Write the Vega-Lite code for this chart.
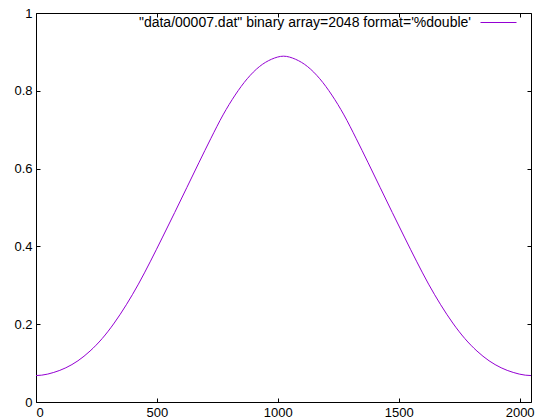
{
  "$schema": "https://vega.github.io/schema/vega-lite/v6.json",
  "width": 495,
  "height": 389,
  "autosize": {"type": "none"},
  "padding": {"left": 36, "top": 13, "right": 8, "bottom": 18},
  "background": "white",
  "config": {
    "view": {"stroke": "black", "strokeWidth": 1},
    "axis": {
      "domain": false,
      "grid": false,
      "tickColor": "black",
      "tickSize": -4,
      "labelFont": "Liberation Sans",
      "labelFontSize": 13,
      "labelColor": "black",
      "title": null
    },
    "legend": {"labelFont": "Liberation Sans", "labelFontSize": 14, "labelColor": "black", "labelLimit": 0}
  },
  "data": {
    "values": [
      {"i": 0, "v": 0.068, "s": "\"data/00007.dat\" binary array=2048 format='%double'"},
      {"i": 23.5, "v": 0.069, "s": "\"data/00007.dat\" binary array=2048 format='%double'"},
      {"i": 73.5, "v": 0.076, "s": "\"data/00007.dat\" binary array=2048 format='%double'"},
      {"i": 123.5, "v": 0.088, "s": "\"data/00007.dat\" binary array=2048 format='%double'"},
      {"i": 173.5, "v": 0.106, "s": "\"data/00007.dat\" binary array=2048 format='%double'"},
      {"i": 223.5, "v": 0.131, "s": "\"data/00007.dat\" binary array=2048 format='%double'"},
      {"i": 273.5, "v": 0.163, "s": "\"data/00007.dat\" binary array=2048 format='%double'"},
      {"i": 323.5, "v": 0.203, "s": "\"data/00007.dat\" binary array=2048 format='%double'"},
      {"i": 373.5, "v": 0.25, "s": "\"data/00007.dat\" binary array=2048 format='%double'"},
      {"i": 423.5, "v": 0.303, "s": "\"data/00007.dat\" binary array=2048 format='%double'"},
      {"i": 473.5, "v": 0.362, "s": "\"data/00007.dat\" binary array=2048 format='%double'"},
      {"i": 523.5, "v": 0.424, "s": "\"data/00007.dat\" binary array=2048 format='%double'"},
      {"i": 573.5, "v": 0.487, "s": "\"data/00007.dat\" binary array=2048 format='%double'"},
      {"i": 623.5, "v": 0.551, "s": "\"data/00007.dat\" binary array=2048 format='%double'"},
      {"i": 673.5, "v": 0.615, "s": "\"data/00007.dat\" binary array=2048 format='%double'"},
      {"i": 723.5, "v": 0.678, "s": "\"data/00007.dat\" binary array=2048 format='%double'"},
      {"i": 773.5, "v": 0.738, "s": "\"data/00007.dat\" binary array=2048 format='%double'"},
      {"i": 823.5, "v": 0.789, "s": "\"data/00007.dat\" binary array=2048 format='%double'"},
      {"i": 873.5, "v": 0.831, "s": "\"data/00007.dat\" binary array=2048 format='%double'"},
      {"i": 923.5, "v": 0.862, "s": "\"data/00007.dat\" binary array=2048 format='%double'"},
      {"i": 973.5, "v": 0.881, "s": "\"data/00007.dat\" binary array=2048 format='%double'"},
      {"i": 1023.5, "v": 0.889, "s": "\"data/00007.dat\" binary array=2048 format='%double'"},
      {"i": 1073.5, "v": 0.881, "s": "\"data/00007.dat\" binary array=2048 format='%double'"},
      {"i": 1123.5, "v": 0.862, "s": "\"data/00007.dat\" binary array=2048 format='%double'"},
      {"i": 1173.5, "v": 0.831, "s": "\"data/00007.dat\" binary array=2048 format='%double'"},
      {"i": 1223.5, "v": 0.789, "s": "\"data/00007.dat\" binary array=2048 format='%double'"},
      {"i": 1273.5, "v": 0.738, "s": "\"data/00007.dat\" binary array=2048 format='%double'"},
      {"i": 1323.5, "v": 0.678, "s": "\"data/00007.dat\" binary array=2048 format='%double'"},
      {"i": 1373.5, "v": 0.615, "s": "\"data/00007.dat\" binary array=2048 format='%double'"},
      {"i": 1423.5, "v": 0.551, "s": "\"data/00007.dat\" binary array=2048 format='%double'"},
      {"i": 1473.5, "v": 0.487, "s": "\"data/00007.dat\" binary array=2048 format='%double'"},
      {"i": 1523.5, "v": 0.424, "s": "\"data/00007.dat\" binary array=2048 format='%double'"},
      {"i": 1573.5, "v": 0.362, "s": "\"data/00007.dat\" binary array=2048 format='%double'"},
      {"i": 1623.5, "v": 0.303, "s": "\"data/00007.dat\" binary array=2048 format='%double'"},
      {"i": 1673.5, "v": 0.25, "s": "\"data/00007.dat\" binary array=2048 format='%double'"},
      {"i": 1723.5, "v": 0.203, "s": "\"data/00007.dat\" binary array=2048 format='%double'"},
      {"i": 1773.5, "v": 0.163, "s": "\"data/00007.dat\" binary array=2048 format='%double'"},
      {"i": 1823.5, "v": 0.131, "s": "\"data/00007.dat\" binary array=2048 format='%double'"},
      {"i": 1873.5, "v": 0.106, "s": "\"data/00007.dat\" binary array=2048 format='%double'"},
      {"i": 1923.5, "v": 0.088, "s": "\"data/00007.dat\" binary array=2048 format='%double'"},
      {"i": 1973.5, "v": 0.076, "s": "\"data/00007.dat\" binary array=2048 format='%double'"},
      {"i": 2023.5, "v": 0.069, "s": "\"data/00007.dat\" binary array=2048 format='%double'"},
      {"i": 2047, "v": 0.068, "s": "\"data/00007.dat\" binary array=2048 format='%double'"}
    ]
  },
  "layer": [
    {
      "mark": {"type": "line", "strokeWidth": 1, "interpolate": "monotone"},
      "encoding": {
        "x": {"field": "i", "type": "quantitative", "scale": {"domain": [0, 2047], "nice": false, "zero": false},
              "axis": {"orient": "bottom", "values": [0, 500, 1000, 1500, 2000], "format": "d", "labelPadding": 8}},
        "y": {"field": "v", "type": "quantitative", "scale": {"domain": [0, 1], "nice": false},
              "axis": {"orient": "left", "values": [0, 0.2, 0.4, 0.6, 0.8, 1], "format": "~g", "labelPadding": 8}},
        "color": {"field": "s", "type": "nominal", "scale": {"range": ["#9400D3"]},
                  "legend": {"title": null, "orient": "none", "legendX": 444, "legendY": -9,
                             "symbolType": "stroke", "symbolSize": 1296, "symbolStrokeWidth": 1,
                             "labelAlign": "right", "labelOffset": -46, "padding": 0}}
      }
    },
    {
      "mark": {"type": "line", "opacity": 0},
      "encoding": {
        "x": {"field": "i", "type": "quantitative", "scale": {"domain": [0, 2047], "nice": false, "zero": false},
              "axis": {"orient": "top", "values": [0, 500, 1000, 1500, 2000], "labels": false}},
        "y": {"field": "v", "type": "quantitative", "scale": {"domain": [0, 1], "nice": false},
              "axis": {"orient": "right", "values": [0, 0.2, 0.4, 0.6, 0.8, 1], "labels": false}}
      }
    }
  ],
  "resolve": {"axis": {"x": "independent", "y": "independent"}}
}
